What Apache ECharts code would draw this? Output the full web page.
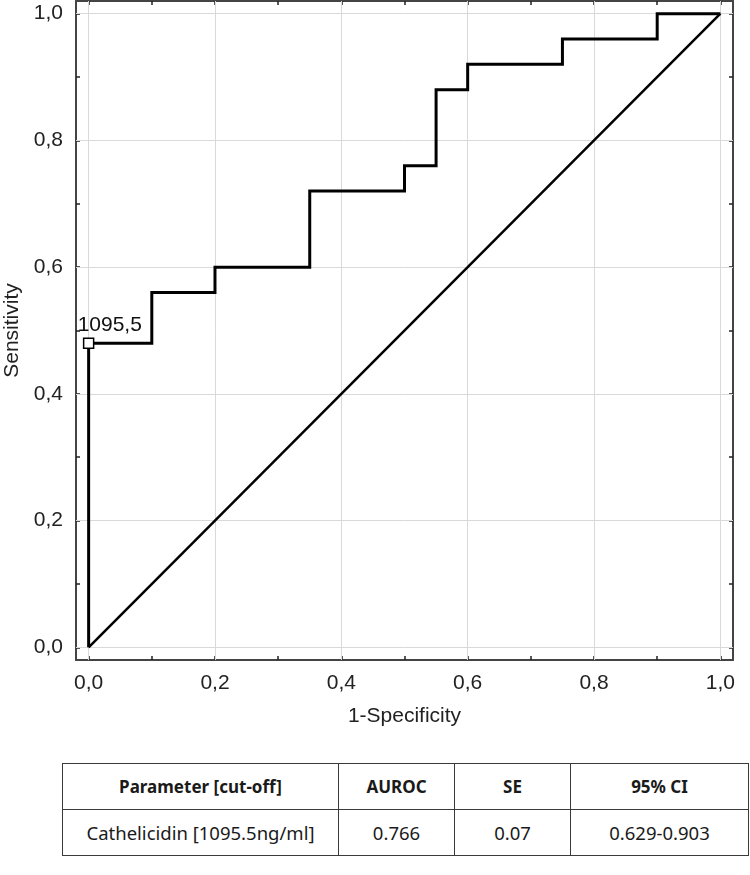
<!DOCTYPE html>
<html><head><meta charset="utf-8">
<script src="https://cdn.jsdelivr.net/npm/echarts@6/dist/echarts.min.js"></script>
<style>
body{margin:0;background:#fff;}
#chart{position:absolute;left:0;top:0;width:750px;height:745px;}
#tbl{position:absolute;left:62px;top:763px;width:686px;border-collapse:collapse;table-layout:fixed;font-family:'Noto Sans',sans-serif;font-size:18.5px;color:#1a1a1a;}
#tbl td{border:1.5px solid #3a3a3a;text-align:center;height:45px;padding:0;white-space:nowrap;}
#tbl tr.h td{font-weight:bold;font-size:17px;}
</style></head><body>
<div id="chart"></div>
<table id="tbl"><colgroup><col style="width:276px"><col style="width:116px"><col style="width:116px"><col style="width:178px"></colgroup></table>
<script>
// ROC curve vertices (1-Specificity, Sensitivity)
const fpr = [0, 0, 0.1, 0.1, 0.2, 0.2, 0.35, 0.35, 0.5, 0.5, 0.55, 0.55, 0.6, 0.6, 0.75, 0.75, 0.9, 0.9, 1.0];
const tpr = [0, 0.48, 0.48, 0.56, 0.56, 0.6, 0.6, 0.72, 0.72, 0.76, 0.76, 0.88, 0.88, 0.92, 0.92, 0.96, 0.96, 1.0, 1.0];
// reference diagonal
const diagX = [0, 1];
const diagY = [0, 1];
// cut-off point
const cutoffPoint = [0, 0.48];
const cutoffLabel = '1095,5';
// ticks
const tickValues = [0, 0.1, 0.2, 0.3, 0.4, 0.5, 0.6, 0.7, 0.8, 0.9, 1.0];
const labelValues = [0, 0.2, 0.4, 0.6, 0.8, 1.0];
const gridValues = [0, 0.2, 0.4, 0.6, 0.8, 1.0];
// table
const tableHeader = ['Parameter [cut-off]', 'AUROC', 'SE', '95% CI'];
const tableRow = ['Cathelicidin [1095.5ng/ml]', '0.766', '0.07', '0.629-0.903'];

const tbl = document.getElementById('tbl');
[[tableHeader, 'h'], [tableRow, 'r']].forEach(([cells, cls]) => {
  const tr = document.createElement('tr');
  tr.className = cls;
  cells.forEach(c => { const td = document.createElement('td'); td.textContent = c; tr.appendChild(td); });
  tbl.appendChild(tr);
});

const FONT = "'Liberation Sans', Arial, sans-serif";
const fmt = v => v.toFixed(1).replace('.', ',');
const axisLine = {show: true, onZero: false, lineStyle: {color: '#444', width: 2}};
const axisTick = {show: true, inside: true, length: 4, customValues: tickValues, lineStyle: {color: '#222', width: 1.5}};
const labelStyle = {customValues: labelValues, formatter: fmt, margin: 13, fontSize: 21, color: '#222', fontFamily: FONT};
const nameStyle = {fontSize: 21, color: '#222', fontFamily: FONT};

const chart = echarts.init(document.getElementById('chart'), null, {renderer: 'canvas'});
chart.setOption({
  animation: false,
  backgroundColor: '#fff',
  grid: {left: 76, right: 17, top: 1, bottom: 85, containLabel: false, outerBoundsMode: 'none'},
  xAxis: [
    {type: 'value', position: 'bottom', min: -0.02, max: 1.02, axisLine, axisTick,
     axisLabel: labelStyle, splitLine: {show: false},
     name: '1-Specificity', nameLocation: 'middle', nameGap: 46, nameTextStyle: nameStyle},
    {type: 'value', position: 'top', min: -0.02, max: 1.02, axisLine, axisTick,
     axisLabel: {show: false}, splitLine: {show: false}}
  ],
  yAxis: [
    {type: 'value', position: 'left', min: -0.02, max: 1.02, axisLine, axisTick,
     axisLabel: labelStyle, splitLine: {show: false},
     name: 'Sensitivity', nameLocation: 'middle', nameGap: 53, nameTextStyle: nameStyle},
    {type: 'value', position: 'right', min: -0.02, max: 1.02, axisLine, axisTick,
     axisLabel: {show: false}, splitLine: {show: false}}
  ],
  series: [
    {type: 'line', z: 1, zlevel: 0, data: [[0, 0]], showSymbol: false, lineStyle: {opacity: 0}, silent: true,
     markLine: {silent: true, symbol: ['none', 'none'], label: {show: false}, animation: false,
       lineStyle: {color: '#d9d9d9', width: 1, type: 'solid'},
       data: gridValues.map(v => ({xAxis: v})).concat(gridValues.map(v => ({yAxis: v})))}},
    {type: 'line', z: 3, zlevel: 1, data: diagX.map((x, i) => [x, diagY[i]]), showSymbol: false,
     lineStyle: {color: '#000', width: 2.5}},
    {type: 'line', z: 4, zlevel: 1, data: fpr.map((x, i) => [x, tpr[i]]), showSymbol: false,
     lineStyle: {color: '#000', width: 3, join: 'miter'}},
    {type: 'scatter', z: 5, zlevel: 1, data: [cutoffPoint], symbol: 'rect', symbolSize: 10,
     itemStyle: {color: '#fff', borderColor: '#000', borderWidth: 1.5, opacity: 1},
     label: {show: true, formatter: cutoffLabel, position: 'top', distance: 2, align: 'left', offset: [-11, 0],
       fontSize: 21, color: '#111', opacity: 1, fontFamily: FONT}}
  ]
});
</script>
</body></html>
